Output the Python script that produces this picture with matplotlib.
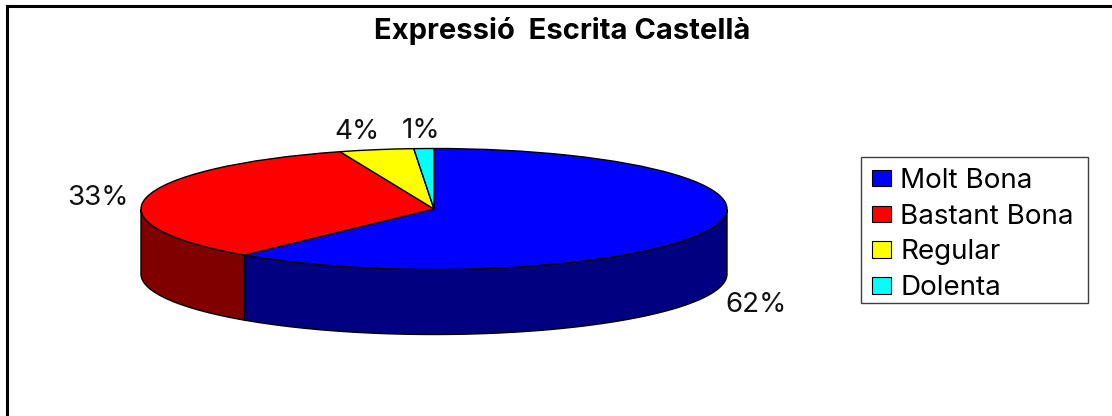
import matplotlib.pyplot as plt
import numpy as np
from matplotlib.lines import Line2D
from matplotlib.patches import Patch, Rectangle

plt.rcParams['font.family'] = ['Inter', 'Liberation Sans', 'DejaVu Sans']

# Data
categories = ['Molt Bona', 'Bastant Bona', 'Regular', 'Dolenta']
values = [61.2, 33.6, 4.1, 1.1]
value_labels = ['62%', '33%', '4%', '1%']
colors = ['#0000ff', '#ff0000', '#ffff00', '#00ffff']
side_colors = ['#000080', '#800000', '#808000', '#008080']
title = 'Expressió  Escrita Castellà'

# Pixel geometry of the squashed pie
W, H = 1112, 416
cx, cy = 434, 209
rx, ry = 293, 60.5
depth = 65 / ry
label_dist = [1.17, 1.167, 1.34, 1.33]

fig = plt.figure(figsize=(W / 100, H / 100), dpi=100)
ax = fig.add_axes([0, 0, 1, 1])

ax.pie(values, colors=colors, startangle=90, counterclock=False,
       wedgeprops=dict(edgecolor='black', linewidth=1, zorder=3))
ax.set_aspect('auto')
ax.set_xlim(-cx / rx, (W - cx) / rx)
ax.set_ylim((cy - H) / ry, cy / ry)

# Side wall and value labels, angles clockwise from 12 o'clock
edges = np.concatenate([[0], np.cumsum(values)]) / sum(values) * 2 * np.pi
for i, lab in enumerate(value_labels):
    a0, a1 = max(edges[i], np.pi / 2), min(edges[i + 1], 3 * np.pi / 2)
    if a1 > a0:
        t = np.linspace(a0, a1, 200)
        x, y = np.sin(t), np.cos(t)
        ax.fill(np.r_[x, x[::-1]], np.r_[y, y[::-1] - depth],
                facecolor=side_colors[i], edgecolor='black', linewidth=1, zorder=2)
    mid = (edges[i] + edges[i + 1]) / 2
    lx = np.sin(mid) * label_dist[i]
    ly = np.cos(mid) * label_dist[i] - 2 / ry
    if np.cos(mid) < -0.2:
        ly -= depth + 5 / ry
    ax.text(lx, ly, lab, ha='center', va='center', fontsize=20, color='#111111')

fig.text(562 / W, 1 - 31 / H, title, ha='center', va='center',
         fontsize=21, fontweight='bold')

# Frame: only top and left are visible
fig.add_artist(Line2D([7 / W, 7 / W], [0, 1 - 6 / H], color='black', lw=2.2))
fig.add_artist(Line2D([7 / W, 1], [1 - 6 / H, 1 - 6 / H], color='black', lw=2.2))

# Legend box drawn apart, its padding is not even in the original
fig.add_artist(Rectangle((860.5 / W, 1 - 303 / H), 227 / W, 146.5 / H, facecolor='white',
                         edgecolor='#404040', linewidth=1, transform=fig.transFigure))
handles = [Patch(facecolor=c, edgecolor='black', linewidth=0.8) for c in colors]
leg = fig.legend(handles, categories, loc='upper left',
                 bbox_to_anchor=(860.5 / W, 1 - 156 / H), borderaxespad=0,
                 fontsize=20, frameon=False,
                 handlelength=0.68, handleheight=0.54, handletextpad=0.32,
                 labelspacing=0.35, borderpad=0.43)
leg.set_zorder(5)

fig.savefig('out.png', dpi=100)
